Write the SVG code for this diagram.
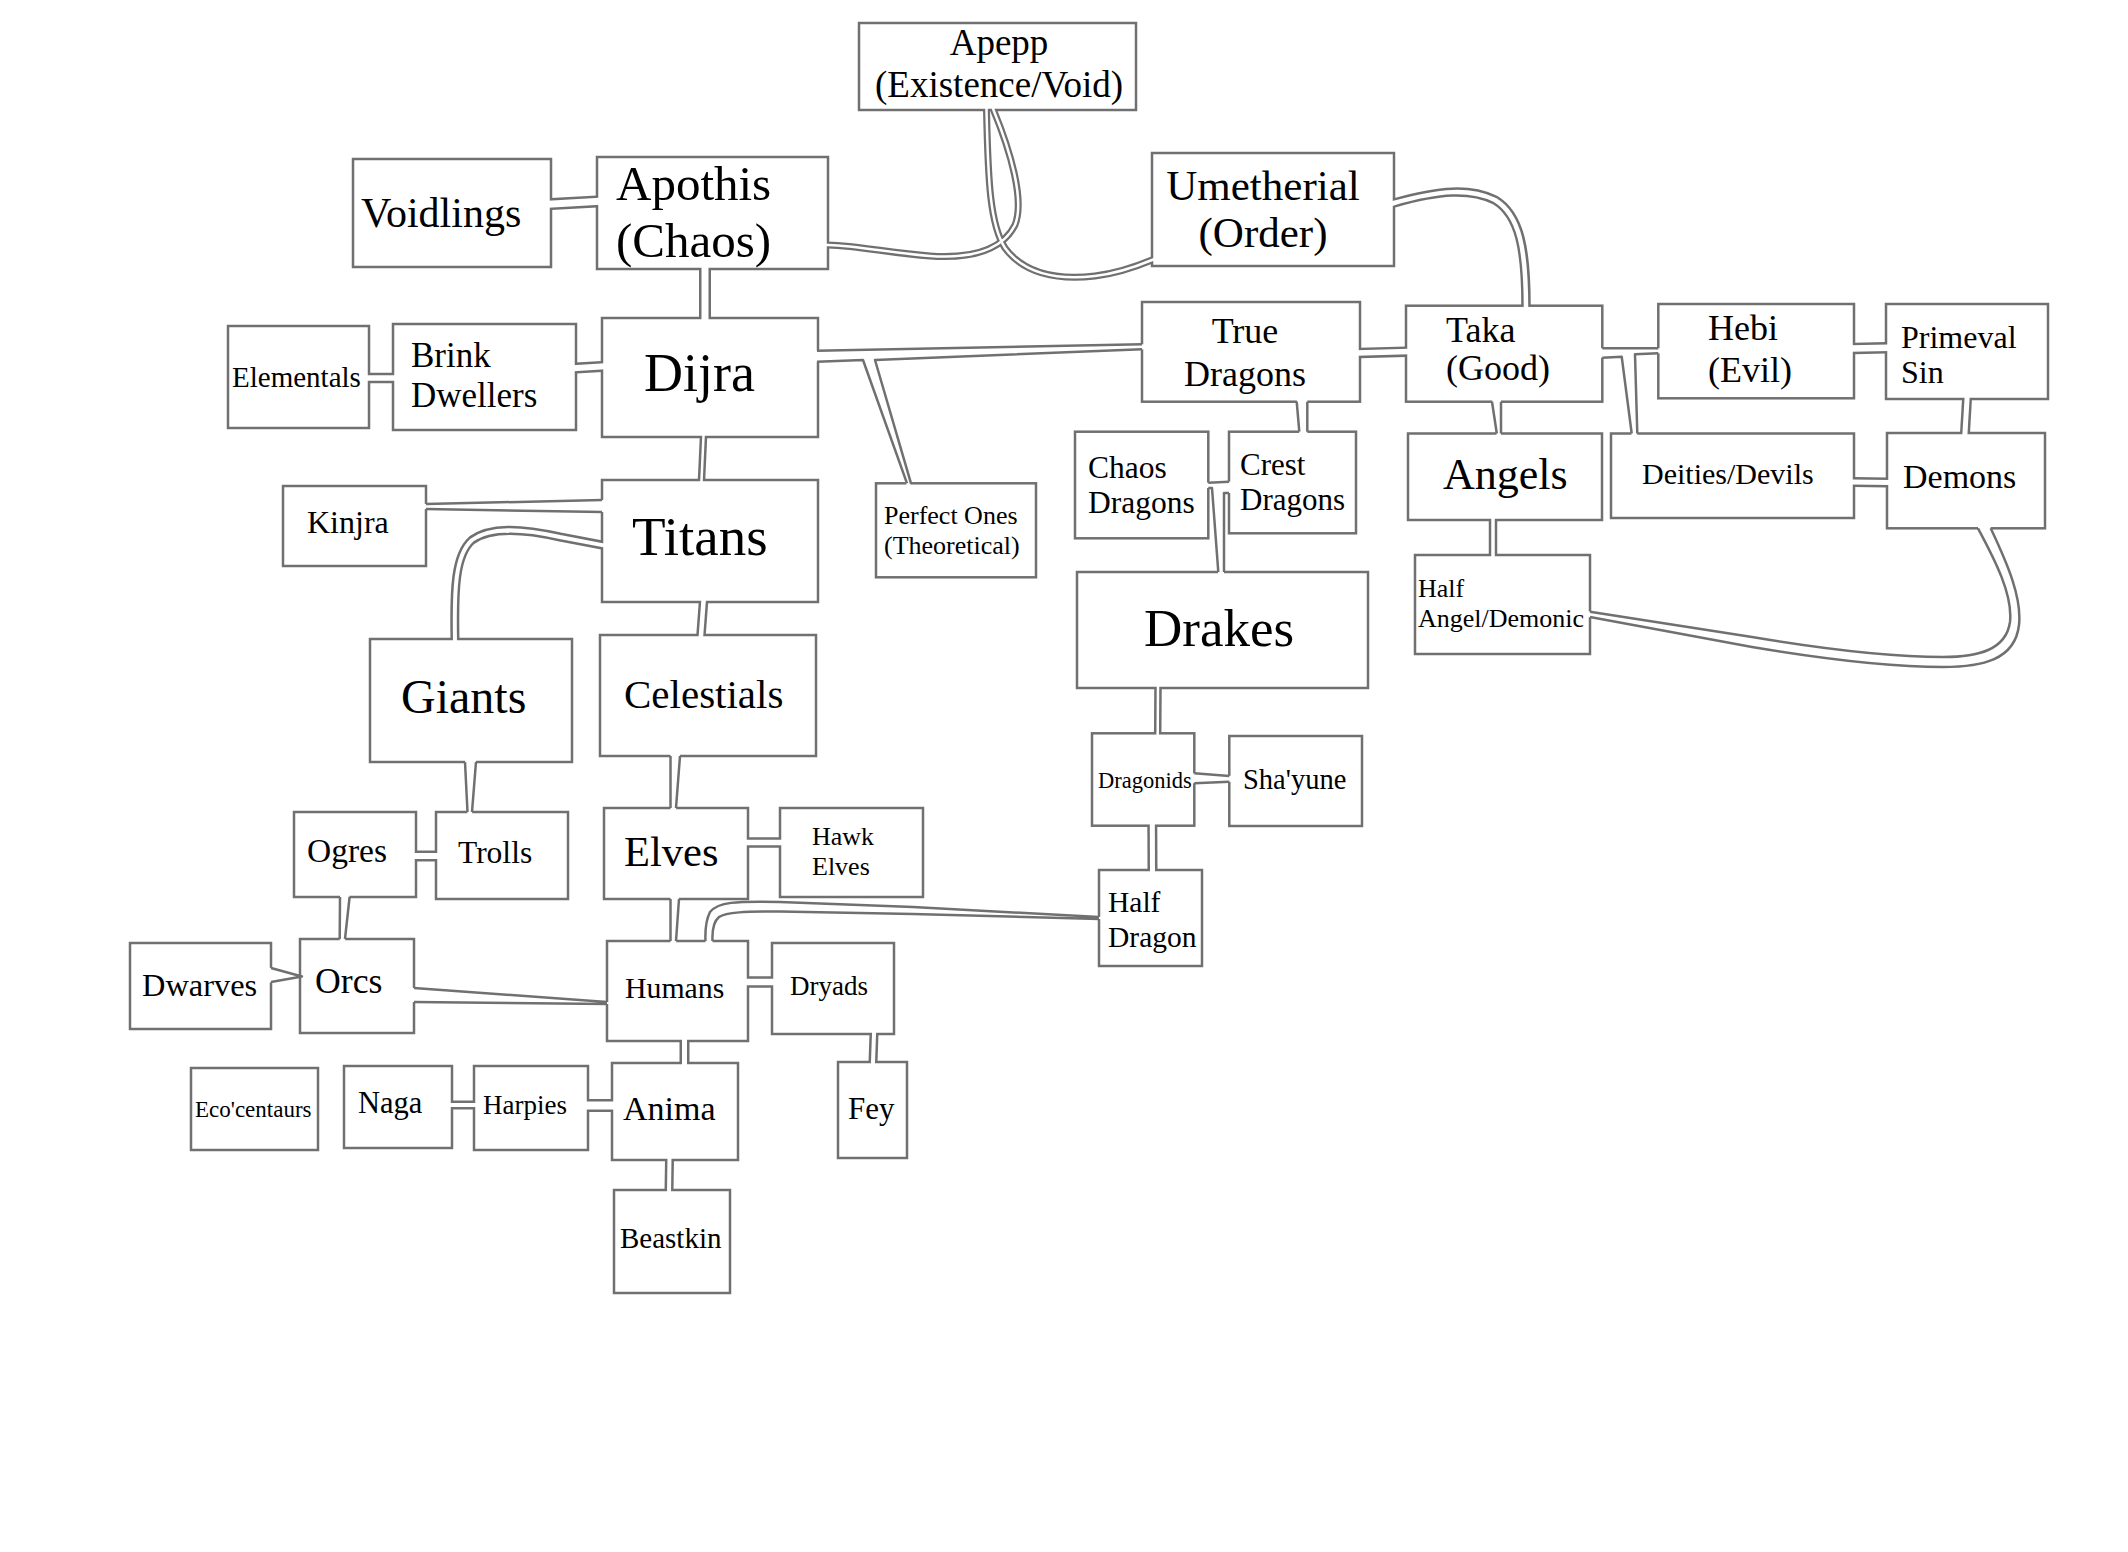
<svg xmlns="http://www.w3.org/2000/svg" width="2128" height="1552" viewBox="0 0 2128 1552">
<style>
.bg{fill:#fff}
.box rect{fill:#fff;stroke:#707070;stroke-width:2.5}
.box text{font-family:"Liberation Serif","Times New Roman",serif;fill:#000}
.po{fill:none;stroke:#707070;stroke-linejoin:round}
.pi{fill:none;stroke:#fff;stroke-linejoin:round}
.ln{fill:none;stroke:#707070;stroke-width:2.5;stroke-linejoin:round}
.cut{fill:#fff;stroke:none}
</style>
<rect class="bg" x="0" y="0" width="2128" height="1552"/>
<g id="nodes">
<g id="n-apepp" class="box"><rect x="859" y="23" width="277" height="87"/><text x="999" font-size="37" text-anchor="middle"><tspan x="999" y="55">Apepp</tspan><tspan x="999" y="97">(Existence/Void)</tspan></text></g>
<g id="n-voidlings" class="box"><rect x="353" y="159" width="198" height="108"/><text x="361" y="227" font-size="42">Voidlings</text></g>
<g id="n-apothis" class="box"><rect x="597" y="157" width="231" height="112"/><text font-size="49"><tspan x="616" y="200">Apothis</tspan><tspan x="616" y="257">(Chaos)</tspan></text></g>
<g id="n-umetherial" class="box"><rect x="1152" y="153" width="242" height="113"/><text font-size="43" text-anchor="middle"><tspan x="1263" y="200">Umetherial</tspan><tspan x="1263" y="247">(Order)</tspan></text></g>
<g id="n-dijra" class="box"><rect x="602" y="318" width="216" height="119"/><text x="644" y="391" font-size="54">Dijra</text></g>
<g id="n-brink" class="box"><rect x="393" y="324" width="183" height="106"/><text font-size="35"><tspan x="411" y="367">Brink</tspan><tspan x="411" y="407">Dwellers</tspan></text></g>
<g id="n-elementals" class="box"><rect x="228" y="326" width="141" height="102"/><text x="232" y="387" font-size="29">Elementals</text></g>
<g id="n-titans" class="box"><rect x="602" y="480" width="216" height="122"/><text x="632" y="555" font-size="55">Titans</text></g>
<g id="n-kinjra" class="box"><rect x="283" y="486" width="143" height="80"/><text x="307" y="533" font-size="32">Kinjra</text></g>
<g id="n-perfect" class="box"><rect x="876" y="483.3" width="160" height="94"/><text font-size="26"><tspan x="884" y="524">Perfect Ones</tspan><tspan x="884" y="554">(Theoretical)</tspan></text></g>
<g id="n-truedragons" class="box"><rect x="1142" y="302" width="218" height="99.7"/><text font-size="36" text-anchor="middle"><tspan x="1245" y="343">True</tspan><tspan x="1245" y="386">Dragons</tspan></text></g>
<g id="n-taka" class="box"><rect x="1406" y="305.7" width="196.3" height="96"/><text font-size="36"><tspan x="1446" y="342">Taka</tspan><tspan x="1446" y="380">(Good)</tspan></text></g>
<g id="n-hebi" class="box"><rect x="1658.3" y="304" width="195.7" height="94.3"/><text font-size="36"><tspan x="1708" y="340">Hebi</tspan><tspan x="1708" y="382">(Evil)</tspan></text></g>
<g id="n-primeval" class="box"><rect x="1886" y="304" width="162" height="95"/><text font-size="32"><tspan x="1901" y="348">Primeval</tspan><tspan x="1901" y="383">Sin</tspan></text></g>
<g id="n-chaosdragons" class="box"><rect x="1075" y="431.7" width="133.3" height="106.6"/><text font-size="31.5"><tspan x="1088" y="478">Chaos</tspan><tspan x="1088" y="513">Dragons</tspan></text></g>
<g id="n-crestdragons" class="box"><rect x="1229" y="431.7" width="127" height="101.6"/><text font-size="31"><tspan x="1240" y="475">Crest</tspan><tspan x="1240" y="510">Dragons</tspan></text></g>
<g id="n-drakes" class="box"><rect x="1077" y="572" width="291" height="116"/><text x="1144" y="646" font-size="53">Drakes</text></g>
<g id="n-angels" class="box"><rect x="1408" y="433.5" width="194" height="86.5"/><text x="1443" y="489" font-size="44">Angels</text></g>
<g id="n-deities" class="box"><rect x="1611" y="433.5" width="243" height="84.5"/><text x="1642" y="484" font-size="30">Deities/Devils</text></g>
<g id="n-demons" class="box"><rect x="1887" y="433" width="158" height="95.3"/><text x="1903" y="488" font-size="34">Demons</text></g>
<g id="n-halfangel" class="box"><rect x="1415" y="555" width="175" height="99"/><text font-size="26"><tspan x="1418" y="597">Half</tspan><tspan x="1418" y="627">Angel/Demonic</tspan></text></g>
<g id="n-dragonids" class="box"><rect x="1092" y="733.3" width="102.3" height="92.4"/><text x="1098" y="788" font-size="22.5">Dragonids</text></g>
<g id="n-shayune" class="box"><rect x="1229.3" y="736" width="132.7" height="90"/><text x="1243" y="789" font-size="28.5">Sha'yune</text></g>
<g id="n-halfdragon" class="box"><rect x="1099" y="870" width="103" height="96"/><text font-size="29.5"><tspan x="1108" y="912">Half</tspan><tspan x="1108" y="947">Dragon</tspan></text></g>
<g id="n-giants" class="box"><rect x="370" y="639" width="202" height="123"/><text x="401" y="713" font-size="48">Giants</text></g>
<g id="n-celestials" class="box"><rect x="600" y="635" width="216" height="121"/><text x="624" y="708" font-size="41">Celestials</text></g>
<g id="n-ogres" class="box"><rect x="294" y="812" width="122" height="85"/><text x="307" y="862" font-size="33.5">Ogres</text></g>
<g id="n-trolls" class="box"><rect x="436" y="812" width="132" height="87"/><text x="458" y="863" font-size="31.5">Trolls</text></g>
<g id="n-elves" class="box"><rect x="604" y="808" width="144" height="91"/><text x="624" y="866" font-size="42.5">Elves</text></g>
<g id="n-hawkelves" class="box"><rect x="780" y="808" width="143" height="89"/><text font-size="26"><tspan x="812" y="845">Hawk</tspan><tspan x="812" y="875">Elves</tspan></text></g>
<g id="n-dwarves" class="box"><rect x="130" y="943" width="141" height="86"/><text x="142" y="996" font-size="32.4">Dwarves</text></g>
<g id="n-orcs" class="box"><rect x="300" y="939" width="114" height="94"/><text x="315" y="993" font-size="35.7">Orcs</text></g>
<g id="n-humans" class="box"><rect x="607" y="941" width="141" height="100"/><text x="625" y="998" font-size="29.8">Humans</text></g>
<g id="n-dryads" class="box"><rect x="772" y="943" width="122" height="91"/><text x="790" y="995" font-size="27">Dryads</text></g>
<g id="n-ecocentaurs" class="box"><rect x="191" y="1068" width="127" height="82"/><text x="195" y="1117" font-size="23">Eco'centaurs</text></g>
<g id="n-naga" class="box"><rect x="344" y="1066" width="108" height="82"/><text x="358" y="1113" font-size="30.5">Naga</text></g>
<g id="n-harpies" class="box"><rect x="474" y="1066" width="114" height="84"/><text x="483" y="1114" font-size="27">Harpies</text></g>
<g id="n-anima" class="box"><rect x="612" y="1063" width="126" height="97"/><text x="623" y="1120" font-size="34">Anima</text></g>
<g id="n-beastkin" class="box"><rect x="614" y="1190" width="116" height="103"/><text x="620" y="1248" font-size="29">Beastkin</text></g>
<g id="n-fey" class="box"><rect x="838" y="1062" width="69" height="96"/><text x="848" y="1119" font-size="31">Fey</text></g>
</g>
<g id="connectors">
<g id="pipe-outer" class="po">
<path stroke-width="12" d="M551,204 L597,201.5"/>
<path stroke-width="12" d="M705,269 L705,318"/>
<path stroke-width="10.5" d="M369,378 L393,378"/>
<path stroke-width="11" d="M576,368 L602,366.5"/>
<path stroke-width="7.5" d="M703.5,437 L701.5,480"/>
<path stroke-width="9" d="M602,545 L560,537 C520,528 490,527 472,540 C455,555 454,590 455,639"/>
<path stroke-width="9.5" d="M703.5,602 L701,635"/>
<path stroke-width="11" d="M416,856 L436,856"/>
<path stroke-width="10.5" d="M748,842.5 L780,842.5"/>
<path stroke-width="11.5" d="M748,982 L772,982"/>
<path stroke-width="10" d="M684.5,1041 L684.5,1063"/>
<path stroke-width="9" d="M874,1034 L873,1062"/>
<path stroke-width="9" d="M452,1105 L474,1105"/>
<path stroke-width="13" d="M588,1105.5 L612,1105.5"/>
<path stroke-width="9" d="M669.5,1160 L669,1190"/>
<path stroke-width="9.5" d="M1394,203 C1440,190 1470,188 1495,200 C1520,215 1526,250 1526,305.7"/>
<path stroke-width="10.5" d="M1360,353 L1406,351.7"/>
<path stroke-width="11.5" d="M1854,348.5 L1886,347.8"/>
<path stroke-width="10" d="M1967,399 L1965,433"/>
<path stroke-width="8.5" d="M1493,520 L1493,555"/>
<path stroke-width="10" d="M1854,482 L1887,482.5"/>
<path stroke-width="7.5" d="M1158,688 L1157.7,733.3"/>
<path stroke-width="10" d="M1152.3,825.7 L1152.5,870"/>
<path stroke-width="7" d="M993.5,110 C1010,150 1025,200 1015,225 C1000,255 960,258 930,256 C890,253 860,246 828,245"/>
<path stroke-width="7" d="M986.5,110 C988,180 990,225 1005,248 C1025,275 1060,280 1095,276 C1120,273 1140,265 1152,260"/>
</g>
<g id="pipe-inner" class="pi">
<path stroke-width="7" d="M548,204.2 L600,201.3"/>
<path stroke-width="7" d="M705,266 L705,321"/>
<path stroke-width="5.5" d="M366,378 L396,378"/>
<path stroke-width="6" d="M573,368.2 L605,366.3"/>
<path stroke-width="2.5" d="M703.6,434 L701.4,483"/>
<path stroke-width="4" d="M605,545.6 L560,537 C520,528 490,527 472,540 C455,555 454,590 455,642"/>
<path stroke-width="4.5" d="M703.7,599 L700.8,638"/>
<path stroke-width="6" d="M413,856 L439,856"/>
<path stroke-width="5.5" d="M745,842.5 L783,842.5"/>
<path stroke-width="6.5" d="M745,982 L775,982"/>
<path stroke-width="5" d="M684.5,1038 L684.5,1066"/>
<path stroke-width="4" d="M874.1,1031 L872.9,1065"/>
<path stroke-width="4" d="M449,1105 L477,1105"/>
<path stroke-width="8" d="M585,1105.5 L615,1105.5"/>
<path stroke-width="4" d="M669.5,1157 L669,1193"/>
<path stroke-width="4.5" d="M1391,204 L1394,203 C1440,190 1470,188 1495,200 C1520,215 1526,250 1526,309"/>
<path stroke-width="5.5" d="M1357,353.1 L1409,351.6"/>
<path stroke-width="6.5" d="M1851,348.6 L1889,347.7"/>
<path stroke-width="5" d="M1967.2,396 L1964.8,436"/>
<path stroke-width="3.5" d="M1493,517 L1493,558"/>
<path stroke-width="5" d="M1851,482 L1890,482.5"/>
<path stroke-width="2.5" d="M1158,685 L1157.7,736.3"/>
<path stroke-width="5" d="M1152.3,822.7 L1152.5,873"/>
<path stroke-width="2.5" d="M993,107 L993.5,110 C1010,150 1025,200 1015,225 C1000,255 960,258 930,256 C890,253 860,246 828,245 L825,245"/>
<path stroke-width="2.5" d="M986.5,107 L986.5,110 C988,180 990,225 1005,248 C1025,275 1060,280 1095,276 C1120,273 1140,265 1152,260 L1155,259"/>
</g>
<g id="cuts" class="cut">
<polygon points="423,504.1 605,499.9 605,512.1 423,508.9"/>
<polygon points="465,759 476,759 472,815 467.5,815"/>
<polygon points="670.5,753 680,753 676,811 670.5,811"/>
<polygon points="340,894 349.6,894 345,942 339.7,942"/>
<polygon points="268,967.3 302,976.5 268,982.7"/>
<polygon points="411,987.8 610,1002.2 610,1004 411,1001.9"/>
<polygon points="670.5,896 679,896 676,945 670.5,945"/>
<polygon points="705.5,937 712.5,937 712.5,945 705.5,945"/>
<polygon points="1096,916.8 1102,917 1102,919 1096,919"/>
<polygon points="814,350.8 1145,344.2 1145,349.2 875,360 911,486.5 907,486.5 863,360 814,361.8"/>
<polygon points="1599,348.3 1661,348.3 1661,353.3 1635,354.3 1637.3,436.5 1631.7,436.5 1621.7,356.7 1599,357.7"/>
<polygon points="1296.7,398.7 1307.3,398.7 1307.3,434.7 1299.3,434.7"/>
<polygon points="1205,482.8 1232,481.6 1232,493 1224,493 1224,575 1218.3,575 1212,488 1205,488"/>
<polygon points="1492,398.7 1501,398.7 1501,436.5 1496.8,436.5"/>
<polygon points="1978,525 1990.7,525 1990.7,532 1978,532"/>
<polygon points="1586,611.5 1593,611.5 1593,617.2 1586,617.2"/>
<polygon points="1191.3,773.3 1232.3,776 1232.3,781.7 1191.3,783.3"/>
</g>
<g id="lines" class="ln">
<path d="M426,504 L602,500 M426,509 L602,512"/>
<path d="M465,762 L467.5,812 M476,762 L472,812"/>
<path d="M670.5,756 L670.5,808 M680,756 L676,808"/>
<path d="M340,897 L339.7,939 M349.6,897 L345,939"/>
<path d="M271,968 L302,976.5 L271,982"/>
<path d="M414,988 L607,1002 M414,1002 L607,1004"/>
<path d="M670.5,899 L670.5,941 M679,899 L676,941"/>
<path d="M1099,917 L913,907 L780,902 C735,901 718,902 710,912 C706,920 705,930 705.5,941 M1099,919 L913,914 L780,911.5 C745,911.5 726,912 719,917 C713,922 712,930 712.5,941"/>
<path d="M817,350.7 L1142,344.3 M817,361.7 L863,360 L907,483.3 M911,483.3 L875,360 L1142,349.3"/>
<path d="M1602.3,348.3 L1658.3,348.3 M1602.3,357.7 L1621.7,356.7 L1631.7,433.5 M1658.3,353.3 L1635,354.3 L1637.3,433.5"/>
<path d="M1296.7,401.7 L1299.3,431.7 M1307.3,401.7 L1307.3,431.7"/>
<path d="M1208.3,482.7 L1229,481.7 M1208.3,488 L1212,488 L1218.3,572 M1229,493 L1224,493 L1224,572"/>
<path d="M1492,401.7 L1496.8,433.5 M1501,401.7 L1501,433.5"/>
<path d="M1978,528.3 C1995,560 2013,595 2010,622 C2006,650 1978,657 1943,657 C1900,657 1830,650 1752,637 L1590,611.7 M1990.7,528.3 C2008,565 2022,598 2019,625 C2015,660 1982,667 1943,667 C1900,667 1830,660 1752,647 L1590,617"/>
<path d="M1194.3,773.3 L1229.3,776 M1194.3,783.3 L1229.3,781.7"/>
</g>
</g>
</svg>
